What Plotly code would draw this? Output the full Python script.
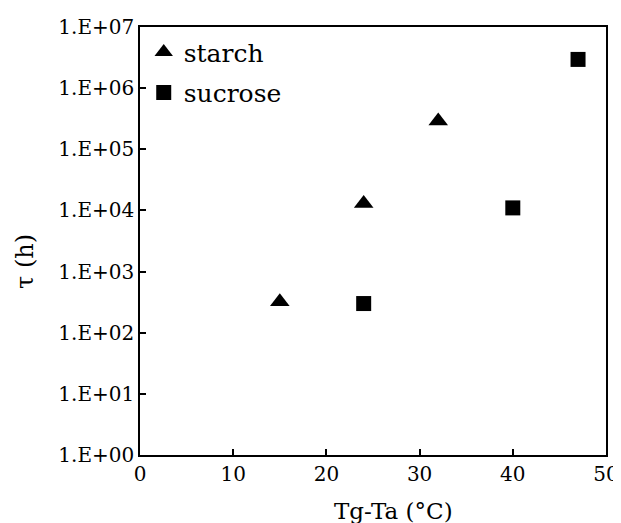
import plotly.graph_objects as go

starch_x = [15, 24, 32]
starch_y = [320, 13000, 290000]
sucrose_x = [24, 40, 47]
sucrose_y = [300, 11000, 2950000]

y_tickvals = [1, 10, 100, 1e3, 1e4, 1e5, 1e6, 1e7]
y_ticktext = ["1.E+00", "1.E+01", "1.E+02", "1.E+03", "1.E+04", "1.E+05", "1.E+06", "1.E+07"]
x_tickvals = [0, 10, 20, 30, 40, 50]

font_family = "DejaVu Serif"

fig = go.Figure()
fig.add_trace(go.Scatter(x=starch_x, y=starch_y, mode="markers", name="starch",
                         legendgroup="a",
                         marker=dict(symbol="triangle-up", size=17, color="black")))
fig.add_trace(go.Scatter(x=sucrose_x, y=sucrose_y, mode="markers", name="sucrose",
                         legendgroup="b",
                         marker=dict(symbol="square", size=15, color="black")))

fig.update_layout(
    width=621, height=515,
    margin=dict(l=132, r=23, t=19, b=68, autoexpand=False),
    plot_bgcolor="white", paper_bgcolor="white",
    font=dict(family=font_family, color="black", size=16),
    legend=dict(x=0.008, y=0.995, xanchor="left", yanchor="top",
                font=dict(size=25, family=font_family),
                bgcolor="rgba(0,0,0,0)", tracegroupgap=5,
                itemwidth=30),
    showlegend=True,
    annotations=[
        dict(text="Tg-Ta (°C)", xref="paper", yref="paper", x=0.543, y=0,
             yshift=-56, xanchor="center", yanchor="middle", showarrow=False,
             font=dict(size=23)),
        dict(text="τ (h)", xref="paper", yref="paper", x=0, y=0.451,
             xshift=-115, xanchor="center", yanchor="middle", showarrow=False,
             textangle=-90, font=dict(size=24)),
    ],
)
fig.update_xaxes(range=[0, 50], tickvals=x_tickvals, ticks="inside", ticklen=6,
                 tickwidth=1.5, tickcolor="black", showline=True, linecolor="black",
                 linewidth=1.5, mirror=True, showgrid=False, zeroline=False,
                 automargin=False, tickfont=dict(size=20))
fig.update_yaxes(type="log", range=[0, 7], tickvals=y_tickvals, ticktext=y_ticktext,
                 ticks="inside", ticklen=6, tickwidth=1.5, tickcolor="black",
                 showline=True, linecolor="black", linewidth=1.5, mirror=True,
                 showgrid=False, zeroline=False, automargin=False,
                 tickfont=dict(size=20))

fig.write_html("out.html")
